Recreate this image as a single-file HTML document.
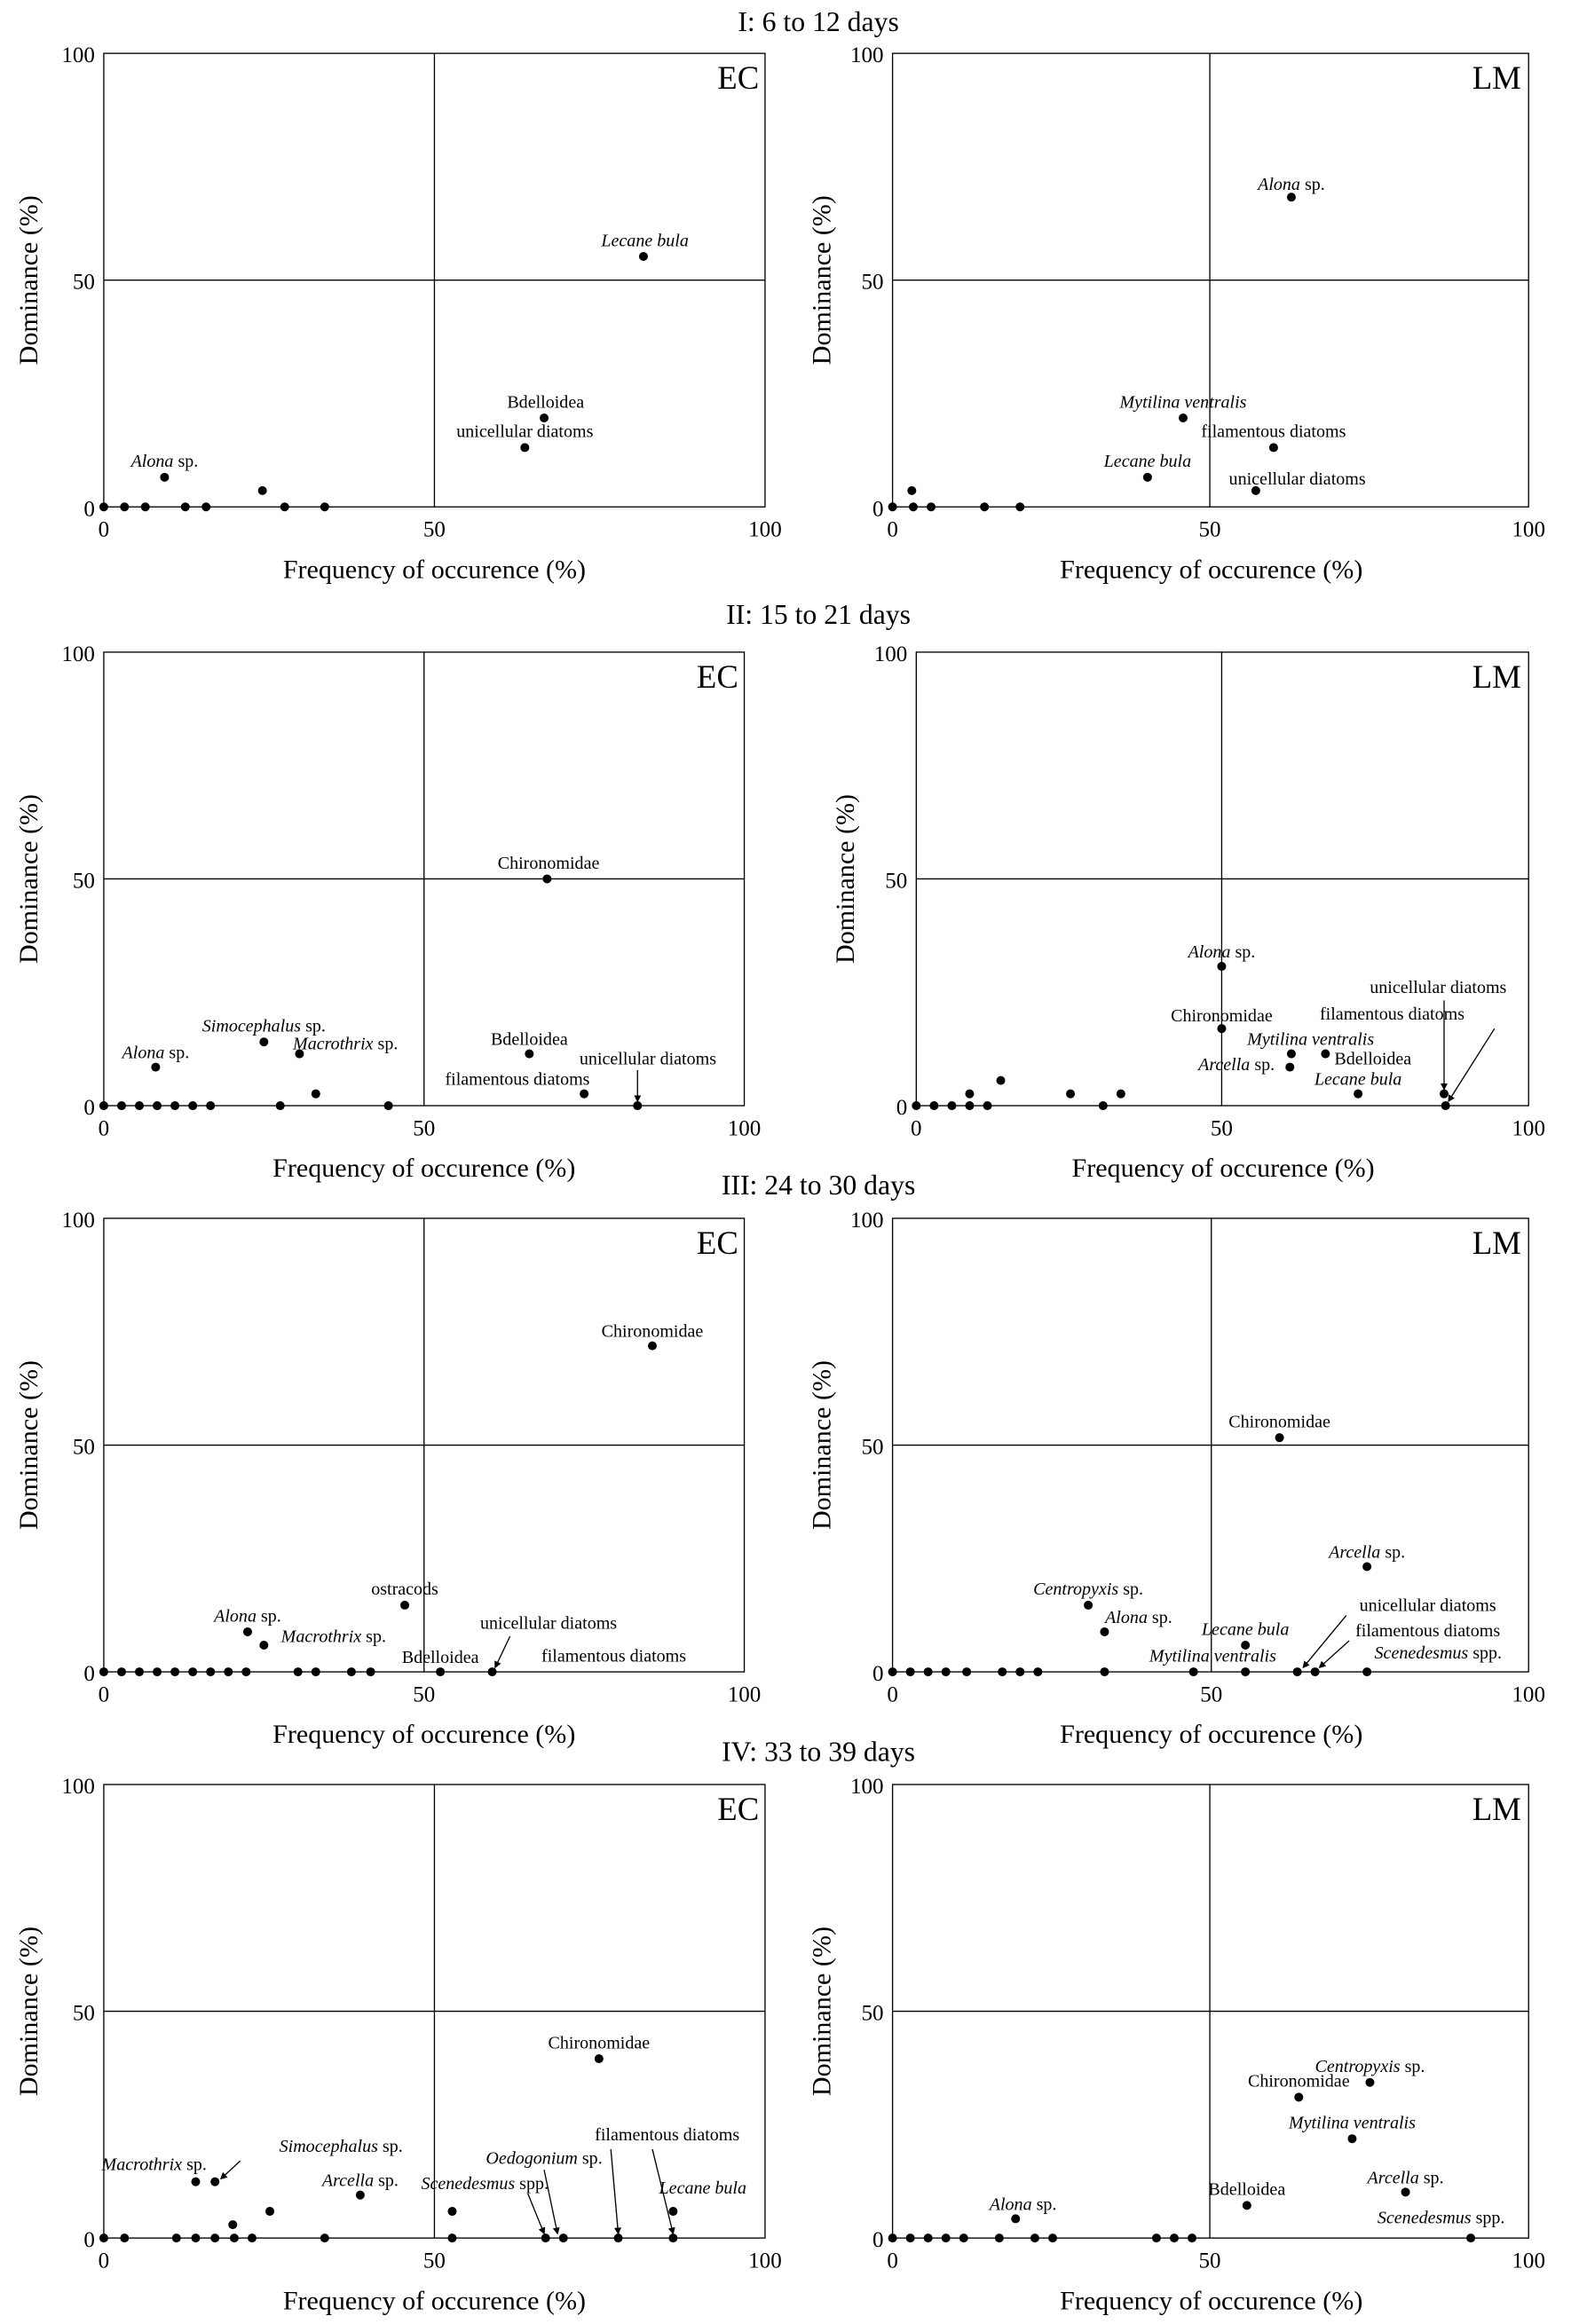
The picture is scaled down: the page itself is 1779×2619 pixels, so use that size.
<!DOCTYPE html>
<html><head><meta charset="utf-8"><style>
html,body{margin:0;padding:0;background:#fff}
svg{display:block}
text{font-family:"Liberation Serif",serif;fill:#000}
.l{font-size:12px;text-anchor:middle}
.i{font-style:italic}
.t{font-size:16px;text-anchor:middle}
.ax{font-size:18px;text-anchor:middle}
.h{font-size:19px;text-anchor:middle}
.p{font-size:22px;text-anchor:end}
.k{font-size:15px}
</style></head><body>
<svg width="1779" height="2619" viewBox="0 0 1065 1568" preserveAspectRatio="none" xmlns="http://www.w3.org/2000/svg">
<defs><marker id="a" markerWidth="6" markerHeight="6" refX="5" refY="3" orient="auto"><path d="M0,0 L6,3 L0,6 z" fill="#000"/></marker></defs>
<g stroke="#000" fill="none" stroke-width="0.8">
<rect x="70" y="36" width="446" height="306"/><line x1="293" y1="36" x2="293" y2="342"/><line x1="70" y1="189" x2="516" y2="189"/>
<rect x="602" y="36" width="429" height="306"/><line x1="816" y1="36" x2="816" y2="342"/><line x1="602" y1="189" x2="1031" y2="189"/>
<rect x="70" y="440" width="432" height="306"/><line x1="286" y1="440" x2="286" y2="746"/><line x1="70" y1="593" x2="502" y2="593"/>
<rect x="618" y="440" width="413" height="306"/><line x1="824" y1="440" x2="824" y2="746"/><line x1="618" y1="593" x2="1031" y2="593"/>
<rect x="70" y="822" width="432" height="306"/><line x1="286" y1="822" x2="286" y2="1128"/><line x1="70" y1="975" x2="502" y2="975"/>
<rect x="602" y="822" width="429" height="306"/><line x1="817" y1="822" x2="817" y2="1128"/><line x1="602" y1="975" x2="1031" y2="975"/>
<rect x="70" y="1204" width="446" height="306"/><line x1="293" y1="1204" x2="293" y2="1510"/><line x1="70" y1="1357" x2="516" y2="1357"/>
<rect x="602" y="1204" width="429" height="306"/><line x1="816" y1="1204" x2="816" y2="1510"/><line x1="602" y1="1357" x2="1031" y2="1357"/>
<g marker-end="url(#a)">
<line x1="430" y1="722" x2="430" y2="743"/>
<line x1="974" y1="675" x2="974" y2="735"/>
<line x1="1008" y1="694" x2="977" y2="743"/>
<line x1="344" y1="1104" x2="334" y2="1125"/>
<line x1="908" y1="1090" x2="879" y2="1125"/>
<line x1="910" y1="1107" x2="890" y2="1125"/>
<line x1="162" y1="1458" x2="149" y2="1470"/>
<line x1="367" y1="1464" x2="376" y2="1507"/>
<line x1="356" y1="1480" x2="367" y2="1507"/>
<line x1="412" y1="1450" x2="417" y2="1507"/>
<line x1="440" y1="1450" x2="454" y2="1507"/>
</g></g>
<g fill="#000">
<!-- I EC -->
<circle cx="70" cy="342" r="3"/><circle cx="84" cy="342" r="3"/><circle cx="98" cy="342" r="3"/><circle cx="125" cy="342" r="3"/><circle cx="139" cy="342" r="3"/><circle cx="192" cy="342" r="3"/><circle cx="219" cy="342" r="3"/><circle cx="177" cy="331" r="3"/><circle cx="111" cy="322" r="3"/><circle cx="354" cy="302" r="3"/><circle cx="367" cy="282" r="3"/><circle cx="434" cy="173" r="3"/>
<!-- I LM -->
<circle cx="602" cy="342" r="3"/><circle cx="616" cy="342" r="3"/><circle cx="628" cy="342" r="3"/><circle cx="664" cy="342" r="3"/><circle cx="688" cy="342" r="3"/><circle cx="615" cy="331" r="3"/><circle cx="871" cy="133" r="3"/><circle cx="798" cy="282" r="3"/><circle cx="859" cy="302" r="3"/><circle cx="774" cy="322" r="3"/><circle cx="847" cy="331" r="3"/>
<!-- II EC -->
<circle cx="70" cy="746" r="3"/><circle cx="82" cy="746" r="3"/><circle cx="94" cy="746" r="3"/><circle cx="106" cy="746" r="3"/><circle cx="118" cy="746" r="3"/><circle cx="130" cy="746" r="3"/><circle cx="142" cy="746" r="3"/><circle cx="189" cy="746" r="3"/><circle cx="262" cy="746" r="3"/><circle cx="430" cy="746" r="3"/><circle cx="213" cy="738" r="3"/><circle cx="105" cy="720" r="3"/><circle cx="178" cy="703" r="3"/><circle cx="202" cy="711" r="3"/><circle cx="369" cy="593" r="3"/><circle cx="357" cy="711" r="3"/><circle cx="394" cy="738" r="3"/>
<!-- II LM -->
<circle cx="618" cy="746" r="3"/><circle cx="630" cy="746" r="3"/><circle cx="642" cy="746" r="3"/><circle cx="654" cy="746" r="3"/><circle cx="666" cy="746" r="3"/><circle cx="744" cy="746" r="3"/><circle cx="975" cy="746" r="3"/><circle cx="654" cy="738" r="3"/><circle cx="722" cy="738" r="3"/><circle cx="756" cy="738" r="3"/><circle cx="675" cy="729" r="3"/><circle cx="824" cy="652" r="3"/><circle cx="824" cy="694" r="3"/><circle cx="871" cy="711" r="3"/><circle cx="870" cy="720" r="3"/><circle cx="894" cy="711" r="3"/><circle cx="916" cy="738" r="3"/><circle cx="974" cy="738" r="3"/>
<!-- III EC -->
<circle cx="70" cy="1128" r="3"/><circle cx="82" cy="1128" r="3"/><circle cx="94" cy="1128" r="3"/><circle cx="106" cy="1128" r="3"/><circle cx="118" cy="1128" r="3"/><circle cx="130" cy="1128" r="3"/><circle cx="142" cy="1128" r="3"/><circle cx="154" cy="1128" r="3"/><circle cx="166" cy="1128" r="3"/><circle cx="201" cy="1128" r="3"/><circle cx="213" cy="1128" r="3"/><circle cx="237" cy="1128" r="3"/><circle cx="250" cy="1128" r="3"/><circle cx="297" cy="1128" r="3"/><circle cx="332" cy="1128" r="3"/><circle cx="167" cy="1101" r="3"/><circle cx="178" cy="1110" r="3"/><circle cx="273" cy="1083" r="3"/><circle cx="440" cy="908" r="3"/>
<!-- III LM -->
<circle cx="602" cy="1128" r="3"/><circle cx="614" cy="1128" r="3"/><circle cx="626" cy="1128" r="3"/><circle cx="638" cy="1128" r="3"/><circle cx="652" cy="1128" r="3"/><circle cx="676" cy="1128" r="3"/><circle cx="688" cy="1128" r="3"/><circle cx="700" cy="1128" r="3"/><circle cx="745" cy="1128" r="3"/><circle cx="805" cy="1128" r="3"/><circle cx="840" cy="1128" r="3"/><circle cx="875" cy="1128" r="3"/><circle cx="887" cy="1128" r="3"/><circle cx="922" cy="1128" r="3"/><circle cx="734" cy="1083" r="3"/><circle cx="745" cy="1101" r="3"/><circle cx="840" cy="1110" r="3"/><circle cx="863" cy="970" r="3"/><circle cx="922" cy="1057" r="3"/>
<!-- IV EC -->
<circle cx="70" cy="1510" r="3"/><circle cx="84" cy="1510" r="3"/><circle cx="119" cy="1510" r="3"/><circle cx="132" cy="1510" r="3"/><circle cx="145" cy="1510" r="3"/><circle cx="158" cy="1510" r="3"/><circle cx="170" cy="1510" r="3"/><circle cx="219" cy="1510" r="3"/><circle cx="305" cy="1510" r="3"/><circle cx="368" cy="1510" r="3"/><circle cx="380" cy="1510" r="3"/><circle cx="417" cy="1510" r="3"/><circle cx="454" cy="1510" r="3"/><circle cx="157" cy="1501" r="3"/><circle cx="182" cy="1492" r="3"/><circle cx="305" cy="1492" r="3"/><circle cx="454" cy="1492" r="3"/><circle cx="243" cy="1481" r="3"/><circle cx="132" cy="1472" r="3"/><circle cx="145" cy="1472" r="3"/><circle cx="404" cy="1389" r="3"/>
<!-- IV LM -->
<circle cx="602" cy="1510" r="3"/><circle cx="614" cy="1510" r="3"/><circle cx="626" cy="1510" r="3"/><circle cx="638" cy="1510" r="3"/><circle cx="650" cy="1510" r="3"/><circle cx="674" cy="1510" r="3"/><circle cx="698" cy="1510" r="3"/><circle cx="710" cy="1510" r="3"/><circle cx="780" cy="1510" r="3"/><circle cx="792" cy="1510" r="3"/><circle cx="804" cy="1510" r="3"/><circle cx="992" cy="1510" r="3"/><circle cx="685" cy="1497" r="3"/><circle cx="841" cy="1488" r="3"/><circle cx="876" cy="1415" r="3"/><circle cx="924" cy="1405" r="3"/><circle cx="912" cy="1443" r="3"/><circle cx="948" cy="1479" r="3"/>
</g>
<!-- titles -->
<text class="h" x="552" y="21">I: 6 to 12 days</text>
<text class="h" x="552" y="421">II: 15 to 21 days</text>
<text class="h" x="552" y="806">III: 24 to 30 days</text>
<text class="h" x="552" y="1188">IV: 33 to 39 days</text>
<text class="p" x="512" y="60">EC</text><text class="p" x="1026" y="60">LM</text>
<text class="p" x="498" y="464">EC</text><text class="p" x="1026" y="464">LM</text>
<text class="p" x="498" y="846">EC</text><text class="p" x="1026" y="846">LM</text>
<text class="p" x="512" y="1228">EC</text><text class="p" x="1026" y="1228">LM</text>
<!-- tick labels -->
<g class="k" text-anchor="end">
<text x="64" y="42">100</text><text x="64" y="195">50</text><text x="64" y="348">0</text>
<text x="596" y="42">100</text><text x="596" y="195">50</text><text x="596" y="348">0</text>
<text x="64" y="446">100</text><text x="64" y="599">50</text><text x="64" y="752">0</text>
<text x="612" y="446">100</text><text x="612" y="599">50</text><text x="612" y="752">0</text>
<text x="64" y="828">100</text><text x="64" y="981">50</text><text x="64" y="1134">0</text>
<text x="596" y="828">100</text><text x="596" y="981">50</text><text x="596" y="1134">0</text>
<text x="64" y="1210">100</text><text x="64" y="1363">50</text><text x="64" y="1516">0</text>
<text x="596" y="1210">100</text><text x="596" y="1363">50</text><text x="596" y="1516">0</text>
</g>
<g class="k" text-anchor="middle">
<text x="70" y="362">0</text><text x="293" y="362">50</text><text x="516" y="362">100</text>
<text x="602" y="362">0</text><text x="816" y="362">50</text><text x="1031" y="362">100</text>
<text x="70" y="766">0</text><text x="286" y="766">50</text><text x="502" y="766">100</text>
<text x="618" y="766">0</text><text x="824" y="766">50</text><text x="1031" y="766">100</text>
<text x="70" y="1148">0</text><text x="286" y="1148">50</text><text x="502" y="1148">100</text>
<text x="602" y="1148">0</text><text x="817" y="1148">50</text><text x="1031" y="1148">100</text>
<text x="70" y="1530">0</text><text x="293" y="1530">50</text><text x="516" y="1530">100</text>
<text x="602" y="1530">0</text><text x="816" y="1530">50</text><text x="1031" y="1530">100</text>
</g>
<!-- axis titles -->
<g class="ax">
<text x="293" y="390">Frequency of occurence (%)</text><text x="817" y="390">Frequency of occurence (%)</text>
<text x="286" y="794">Frequency of occurence (%)</text><text x="825" y="794">Frequency of occurence (%)</text>
<text x="286" y="1176">Frequency of occurence (%)</text><text x="817" y="1176">Frequency of occurence (%)</text>
<text x="293" y="1558">Frequency of occurence (%)</text><text x="817" y="1558">Frequency of occurence (%)</text>
<text transform="translate(25,189) rotate(-90)">Dominance (%)</text><text transform="translate(560,189) rotate(-90)">Dominance (%)</text>
<text transform="translate(25,593) rotate(-90)">Dominance (%)</text><text transform="translate(576,593) rotate(-90)">Dominance (%)</text>
<text transform="translate(25,975) rotate(-90)">Dominance (%)</text><text transform="translate(560,975) rotate(-90)">Dominance (%)</text>
<text transform="translate(25,1357) rotate(-90)">Dominance (%)</text><text transform="translate(560,1357) rotate(-90)">Dominance (%)</text>
</g>
<!-- point labels -->
<g class="l">
<text x="111" y="315"><tspan class="i">Alona</tspan> sp.</text>
<text x="354" y="295">unicellular diatoms</text>
<text x="368" y="275">Bdelloidea</text>
<text x="435" y="166" class="i">Lecane bula</text>
<text x="871" y="128"><tspan class="i">Alona</tspan> sp.</text>
<text x="798" y="275" class="i">Mytilina ventralis</text>
<text x="859" y="295">filamentous diatoms</text>
<text x="774" y="315" class="i">Lecane bula</text>
<text x="875" y="327">unicellular diatoms</text>

<text x="105" y="714"><tspan class="i">Alona</tspan> sp.</text>
<text x="178" y="696"><tspan class="i">Simocephalus</tspan> sp.</text>
<text x="233" y="708"><tspan class="i">Macrothrix</tspan> sp.</text>
<text x="370" y="586">Chironomidae</text>
<text x="357" y="705">Bdelloidea</text>
<text x="349" y="732">filamentous diatoms</text>
<text x="437" y="718">unicellular diatoms</text>
<text x="824" y="646"><tspan class="i">Alona</tspan> sp.</text>
<text x="824" y="689">Chironomidae</text>
<text x="884" y="705" class="i">Mytilina ventralis</text>
<text x="834" y="722"><tspan class="i">Arcella</tspan> sp.</text>
<text x="926" y="718">Bdelloidea</text>
<text x="916" y="732" class="i">Lecane bula</text>
<text x="970" y="670">unicellular diatoms</text>
<text x="939" y="688">filamentous diatoms</text>

<text x="167" y="1094"><tspan class="i">Alona</tspan> sp.</text>
<text x="225" y="1108"><tspan class="i">Macrothrix</tspan> sp.</text>
<text x="273" y="1076">ostracods</text>
<text x="440" y="902">Chironomidae</text>
<text x="297" y="1122">Bdelloidea</text>
<text x="370" y="1099">unicellular diatoms</text>
<text x="414" y="1121">filamentous diatoms</text>
<text x="734" y="1076"><tspan class="i">Centropyxis</tspan> sp.</text>
<text x="768" y="1095"><tspan class="i">Alona</tspan> sp.</text>
<text x="840" y="1103" class="i">Lecane bula</text>
<text x="863" y="963">Chironomidae</text>
<text x="922" y="1051"><tspan class="i">Arcella</tspan> sp.</text>
<text x="818" y="1121" class="i">Mytilina ventralis</text>
<text x="963" y="1087">unicellular diatoms</text>
<text x="963" y="1104">filamentous diatoms</text>
<text x="970" y="1119"><tspan class="i">Scenedesmus</tspan> spp.</text>

<text x="104" y="1464"><tspan class="i">Macrothrix</tspan> sp.</text>
<text x="230" y="1452"><tspan class="i">Simocephalus</tspan> sp.</text>
<text x="243" y="1475"><tspan class="i">Arcella</tspan> sp.</text>
<text x="404" y="1382">Chironomidae</text>
<text x="367" y="1460"><tspan class="i">Oedogonium</tspan> sp.</text>
<text x="327" y="1477"><tspan class="i">Scenedesmus</tspan> spp.</text>
<text x="450" y="1444">filamentous diatoms</text>
<text x="474" y="1480" class="i">Lecane bula</text>
<text x="690" y="1491"><tspan class="i">Alona</tspan> sp.</text>
<text x="841" y="1481">Bdelloidea</text>
<text x="876" y="1408">Chironomidae</text>
<text x="924" y="1398"><tspan class="i">Centropyxis</tspan> sp.</text>
<text x="912" y="1436" class="i">Mytilina ventralis</text>
<text x="948" y="1473"><tspan class="i">Arcella</tspan> sp.</text>
<text x="972" y="1500"><tspan class="i">Scenedesmus</tspan> spp.</text>
</g>
</svg>
</body></html>
